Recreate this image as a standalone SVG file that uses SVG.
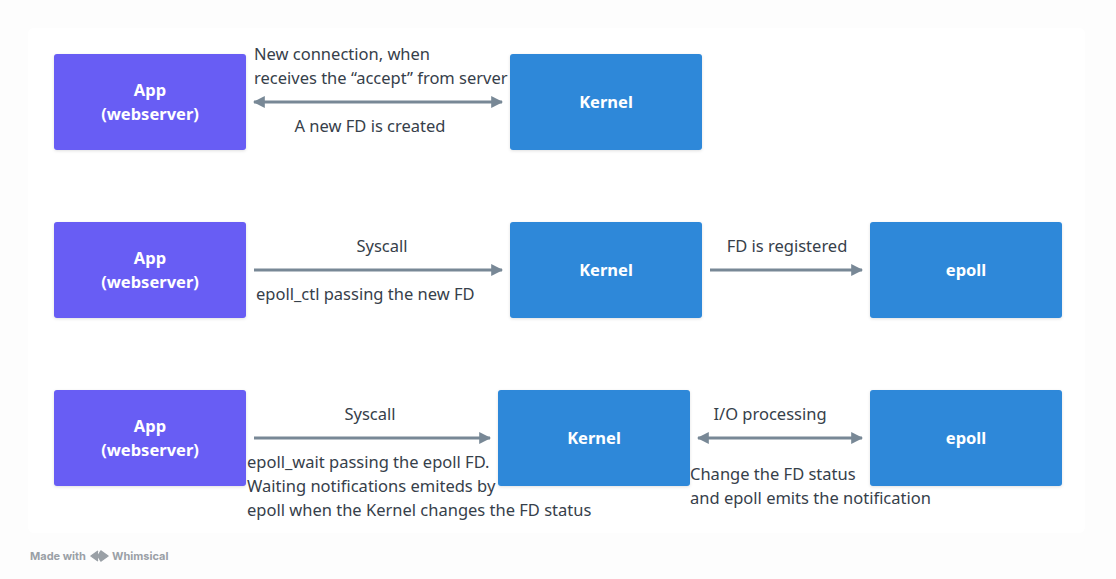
<svg xmlns="http://www.w3.org/2000/svg" width="1116" height="579" viewBox="0 0 1116 579">
<defs>
<marker id="ah" viewBox="0 0 10 10" refX="9" refY="5" markerWidth="4" markerHeight="4" orient="auto-start-reverse" markerUnits="strokeWidth">
<path d="M0,0 L10,5 L0,10 z" fill="#788896"/>
</marker>
<filter id="sh" x="-10%" y="-10%" width="120%" height="130%">
<feDropShadow dx="0" dy="1" stdDeviation="1.5" flood-color="#000" flood-opacity="0.12"/>
</filter>
</defs>
<style>
.app{fill:#675df4;filter:url(#sh)}
.ker{fill:#2d88d9;filter:url(#sh)}
.nl{font-family:"Noto Sans",Roboto,sans-serif;font-weight:bold;font-size:16.5px;fill:#fff;text-anchor:middle}
.el{font-family:"Noto Sans",Roboto,sans-serif;font-size:16.5px;fill:#36404a}
.c{text-anchor:middle}
.ln{stroke:#788896;stroke-width:3;fill:none}
</style>
<rect width="1116" height="579" fill="#fdfdfd"/>
<rect x="28" y="28" width="1057" height="505" rx="6" fill="#ffffff"/>
<g id="app1"><rect class="app" x="54" y="54" width="192" height="96" rx="3"/><text class="nl" x="150" y="96">App</text><text class="nl" x="150" y="120">(webserver)</text></g>
<g id="kernel1"><rect class="ker" x="510" y="54" width="192" height="96" rx="3"/><text class="nl" x="606" y="108">Kernel</text></g>
<g id="app2"><rect class="app" x="54" y="222" width="192" height="96" rx="3"/><text class="nl" x="150" y="264">App</text><text class="nl" x="150" y="288">(webserver)</text></g>
<g id="kernel2"><rect class="ker" x="510" y="222" width="192" height="96" rx="3"/><text class="nl" x="606" y="276">Kernel</text></g>
<g id="epoll2"><rect class="ker" x="870" y="222" width="192" height="96" rx="3"/><text class="nl" x="966" y="276">epoll</text></g>
<g id="app3"><rect class="app" x="54" y="390" width="192" height="96" rx="3"/><text class="nl" x="150" y="432">App</text><text class="nl" x="150" y="456">(webserver)</text></g>
<g id="kernel3"><rect class="ker" x="498" y="390" width="192" height="96" rx="3"/><text class="nl" x="594" y="444">Kernel</text></g>
<g id="epoll3"><rect class="ker" x="870" y="390" width="192" height="96" rx="3"/><text class="nl" x="966" y="444">epoll</text></g>
<g id="connectors">
<line class="ln" x1="254" y1="102" x2="502" y2="102" marker-start="url(#ah)" marker-end="url(#ah)"/>
<line class="ln" x1="254" y1="270" x2="502" y2="270" marker-end="url(#ah)"/>
<line class="ln" x1="710" y1="270" x2="862" y2="270" marker-end="url(#ah)"/>
<line class="ln" x1="254" y1="438" x2="490" y2="438" marker-end="url(#ah)"/>
<line class="ln" x1="698" y1="438" x2="862" y2="438" marker-start="url(#ah)" marker-end="url(#ah)"/>
</g>
<g id="labels">
<text class="el" x="254" y="60">New connection, when</text>
<text class="el" x="254" y="84">receives the “accept” from server</text>
<text class="el c" x="370" y="132">A new FD is created</text>
<text class="el c" x="382" y="252">Syscall</text>
<text class="el" x="256" y="300">epoll_ctl passing the new FD</text>
<text class="el c" x="787" y="252">FD is registered</text>
<text class="el c" x="370" y="420">Syscall</text>
<text class="el" x="247" y="468">epoll_wait passing the epoll FD.</text>
<text class="el" x="247" y="492">Waiting notifications emiteds by</text>
<text class="el" x="247" y="516">epoll when the Kernel changes the FD status</text>
<text class="el c" x="770" y="420">I/O processing</text>
<text class="el" x="690" y="480">Change the FD status</text>
<text class="el" x="690" y="504">and epoll emits the notification</text>
</g>
<g id="footer">
<text x="30" y="560" font-family="Inter,'Noto Sans',sans-serif" font-size="11" font-weight="bold" fill="#9aa0a6">Made with</text>
<path d="M98,551 l-7,5 l7,5 M101,551 l7,5 l-7,5 l-3,-5 z" fill="#9aa0a6" stroke="#9aa0a6" stroke-width="1.5" stroke-linejoin="round"/>
<text x="112" y="560" font-family="Inter,'Noto Sans',sans-serif" font-size="11" font-weight="bold" fill="#9aa0a6">Whimsical</text>
</g>
</svg>
